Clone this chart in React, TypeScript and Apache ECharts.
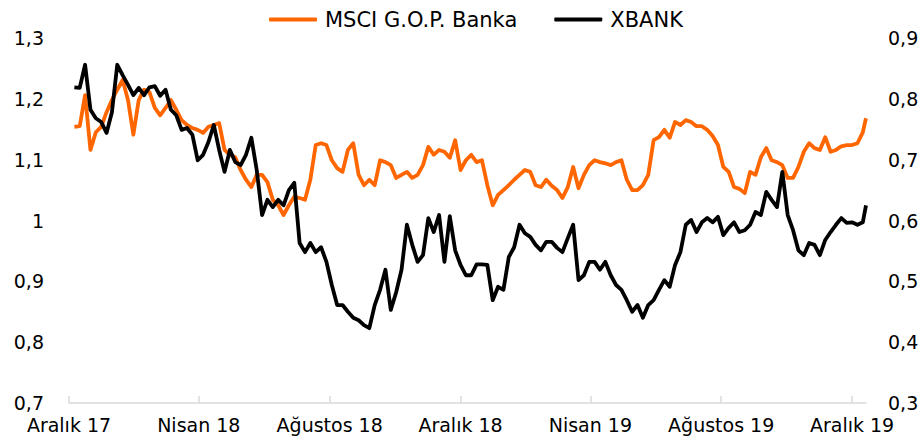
import React, { useEffect, useRef } from "react";
import * as echarts from "echarts";

const dates = [
  "2017-12-06","2017-12-11","2017-12-16","2017-12-21","2017-12-26","2017-12-31",
  "2018-01-05","2018-01-10","2018-01-15","2018-01-20","2018-01-25","2018-01-30",
  "2018-02-04","2018-02-09","2018-02-14","2018-02-19","2018-02-24",
  "2018-03-01","2018-03-06","2018-03-11","2018-03-16","2018-03-21","2018-03-26","2018-03-31",
  "2018-04-05","2018-04-10","2018-04-15","2018-04-20","2018-04-25","2018-04-30",
  "2018-05-05","2018-05-10","2018-05-15","2018-05-20","2018-05-25","2018-05-30",
  "2018-06-04","2018-06-09","2018-06-14","2018-06-19","2018-06-24","2018-06-29",
  "2018-07-04","2018-07-09","2018-07-14","2018-07-19","2018-07-24","2018-07-29",
  "2018-08-03","2018-08-08","2018-08-13","2018-08-18","2018-08-23","2018-08-28",
  "2018-09-02","2018-09-07","2018-09-12","2018-09-17","2018-09-22","2018-09-27",
  "2018-10-02","2018-10-07","2018-10-12","2018-10-17","2018-10-22","2018-10-27",
  "2018-11-01","2018-11-06","2018-11-11","2018-11-16","2018-11-21","2018-11-26",
  "2018-12-01","2018-12-06","2018-12-11","2018-12-16","2018-12-21","2018-12-26","2018-12-31",
  "2019-01-05","2019-01-10","2019-01-15","2019-01-20","2019-01-25","2019-01-30",
  "2019-02-04","2019-02-09","2019-02-14","2019-02-19","2019-02-24",
  "2019-03-01","2019-03-06","2019-03-11","2019-03-16","2019-03-21","2019-03-26","2019-03-31",
  "2019-04-05","2019-04-10","2019-04-15","2019-04-20","2019-04-25","2019-04-30",
  "2019-05-05","2019-05-10","2019-05-15","2019-05-20","2019-05-25","2019-05-30",
  "2019-06-04","2019-06-09","2019-06-14","2019-06-19","2019-06-24","2019-06-29",
  "2019-07-04","2019-07-09","2019-07-14","2019-07-19","2019-07-24","2019-07-29",
  "2019-08-03","2019-08-08","2019-08-13","2019-08-18","2019-08-23","2019-08-28",
  "2019-09-02","2019-09-07","2019-09-12","2019-09-17","2019-09-22","2019-09-27",
  "2019-10-02","2019-10-07","2019-10-12","2019-10-17","2019-10-22","2019-10-27",
  "2019-11-01","2019-11-06","2019-11-11","2019-11-16","2019-11-21","2019-11-26",
  "2019-12-01","2019-12-06","2019-12-11","2019-12-14"
];

const msci = [
  1.154,1.155,1.206,1.116,1.145,1.154,1.178,1.198,1.215,1.231,
  1.198,1.141,1.198,1.215,1.211,1.185,1.173,1.185,1.198,1.182,
  1.165,1.157,1.152,1.149,1.144,1.154,1.157,1.160,1.116,1.108,
  1.104,1.083,1.067,1.055,1.075,1.075,1.063,1.034,1.025,1.009,
  1.025,1.039,1.037,1.034,1.067,1.124,1.127,1.124,1.099,1.086,
  1.080,1.116,1.127,1.075,1.058,1.067,1.058,1.099,1.096,1.091,
  1.070,1.075,1.080,1.070,1.075,1.091,1.121,1.108,1.116,1.113,
  1.103,1.132,1.083,1.099,1.108,1.096,1.099,1.058,1.025,1.042,
  1.050,1.058,1.067,1.075,1.083,1.080,1.058,1.055,1.067,1.057,
  1.050,1.037,1.055,1.088,1.053,1.075,1.091,1.099,1.096,1.094,
  1.091,1.096,1.099,1.067,1.050,1.050,1.058,1.075,1.132,1.137,
  1.149,1.136,1.162,1.157,1.165,1.162,1.155,1.155,1.149,1.139,
  1.124,1.088,1.080,1.055,1.052,1.045,1.080,1.075,1.104,1.119,
  1.099,1.096,1.091,1.070,1.070,1.088,1.113,1.127,1.119,1.116,
  1.137,1.113,1.116,1.122,1.124,1.124,1.127,1.145,1.168
];

const xbank = [
  0.819,0.818,0.856,0.782,0.768,0.762,0.744,0.778,0.856,0.839,
  0.823,0.806,0.818,0.806,0.819,0.821,0.805,0.815,0.782,0.773,
  0.749,0.752,0.741,0.699,0.708,0.729,0.757,0.716,0.680,0.716,
  0.696,0.691,0.708,0.736,0.683,0.609,0.634,0.622,0.634,0.625,
  0.650,0.662,0.563,0.548,0.563,0.548,0.556,0.532,0.494,0.461,
  0.461,0.450,0.440,0.436,0.428,0.423,0.461,0.486,0.519,0.453,
  0.482,0.519,0.593,0.560,0.532,0.543,0.604,0.581,0.609,0.532,
  0.607,0.551,0.527,0.510,0.510,0.528,0.528,0.527,0.469,0.491,
  0.486,0.540,0.556,0.593,0.579,0.573,0.560,0.551,0.565,0.565,
  0.555,0.548,0.571,0.593,0.502,0.510,0.532,0.532,0.519,0.532,
  0.510,0.494,0.486,0.469,0.450,0.461,0.440,0.461,0.469,0.486,
  0.502,0.491,0.527,0.548,0.593,0.601,0.581,0.597,0.604,0.597,
  0.606,0.576,0.588,0.597,0.581,0.584,0.593,0.614,0.609,0.647,
  0.634,0.622,0.680,0.609,0.584,0.551,0.543,0.563,0.560,0.543,
  0.568,0.581,0.593,0.604,0.596,0.597,0.593,0.597,0.625
];

const tickDates = ["2017-12-01","2018-04-01","2018-08-01","2018-12-01","2019-04-01","2019-08-01","2019-12-01"];
const tickLabels = ["Aralık 17","Nisan 18","Ağustos 18","Aralık 18","Nisan 19","Ağustos 19","Aralık 19"];
const axisStart = "2017-12-01";
const axisEnd = "2019-12-14";

const seriesNames = ["MSCI G.O.P. Banka", "XBANK"];
const seriesColors = ["#FF6600", "#000000"];

const FONT = "'DejaVu Sans', sans-serif";

const DAY = 86400000;
function dayNum(s: string) {
  const [y, m, d] = s.split("-").map(Number);
  return Math.round(Date.UTC(y, m - 1, d) / DAY);
}

function fmtNum(v: number) {
  const r = Math.round(v * 10) / 10;
  return String(r).replace(".", ",");
}

export default function App() {
  const ref = useRef<HTMLDivElement>(null);
  useEffect(() => {
    if (!ref.current) return;
    const chart = echarts.init(ref.current, undefined, { renderer: "svg" });
    const base = dayNum(axisStart);
    const tickX = tickDates.map((d) => dayNum(d) - base);
    const xs = dates.map((d) => dayNum(d) - base);
    const option = {
      animation: false,
      backgroundColor: "#ffffff",
      legend: {
        left: 264,
        top: 4,
        itemWidth: 48,
        itemHeight: 4,
        itemGap: 37,
        icon: "roundRect",
        textStyle: { fontFamily: FONT, fontSize: 21, color: "#000", padding: [0, 0, 0, 3] },
        data: seriesNames,
      },
      grid: { left: 69, right: 56, top: 38, bottom: 42, containLabel: false },
      xAxis: {
        type: "value",
        min: 0,
        max: dayNum(axisEnd) - base,
        axisLine: { show: true, lineStyle: { color: "#d9d9d9", width: 1.5 } },
        axisTick: {
          show: true,
          inside: true,
          length: 7,
          customValues: tickX,
          lineStyle: { color: "#d9d9d9", width: 1.5 },
        },
        axisLabel: {
          customValues: tickX,
          margin: 12,
          fontFamily: FONT,
          fontSize: 19,
          color: "#000",
          formatter: (v: number) => {
            const idx = tickX.findIndex((t) => Math.abs(t - v) < 0.5);
            return idx >= 0 ? tickLabels[idx] : "";
          },
        },
        splitLine: { show: false },
      },
      yAxis: [
        {
          type: "value",
          min: 0.7,
          max: 1.3,
          interval: 0.1,
          position: "left",
          axisLine: { show: false },
          axisTick: { show: false },
          splitLine: { show: false },
          axisLabel: {
            margin: 25,
            fontFamily: FONT,
            fontSize: 19,
            color: "#000",
            formatter: fmtNum,
          },
        },
        {
          type: "value",
          min: 0.3,
          max: 0.9,
          interval: 0.1,
          position: "right",
          axisLine: { show: false },
          axisTick: { show: false },
          splitLine: { show: false },
          axisLabel: {
            margin: 22,
            fontFamily: FONT,
            fontSize: 19,
            color: "#000",
            formatter: fmtNum,
          },
        },
      ],
      series: [
        {
          name: seriesNames[0],
          type: "line",
          yAxisIndex: 0,
          showSymbol: false,
          symbol: "none",
          color: seriesColors[0],
          lineStyle: { color: seriesColors[0], width: 3.8, join: "round" },
          emphasis: { disabled: true },
          data: xs.map((x, i) => [x, msci[i]]),
        },
        {
          name: seriesNames[1],
          type: "line",
          yAxisIndex: 1,
          showSymbol: false,
          symbol: "none",
          color: seriesColors[1],
          lineStyle: { color: seriesColors[1], width: 3.8, join: "round" },
          emphasis: { disabled: true },
          data: xs.map((x, i) => [x, xbank[i]]),
        },
      ],
    };
    chart.setOption(option as any);
    return () => chart.dispose();
  }, []);
  return (
    <div
      ref={ref}
      style={{ position: "absolute", left: 0, top: 0, width: 922, height: 445 }}
    />
  );
}
